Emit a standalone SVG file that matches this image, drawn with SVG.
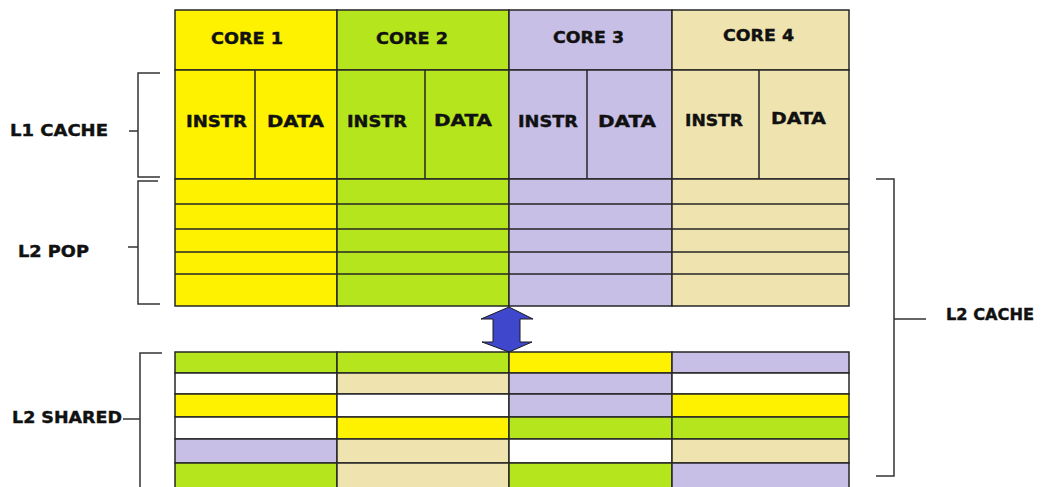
<svg xmlns="http://www.w3.org/2000/svg" width="1049" height="487" viewBox="0 0 1049 487">
<style>
.c{stroke:#262626;stroke-width:1.5}
.y{fill:#FFF200}.g{fill:#B5E61D}.l{fill:#C8BFE7}.t{fill:#EFE4B0}.w{fill:#FFFFFF}
.ln{stroke:#262626;stroke-width:1.5;fill:none}
.br{stroke:#333;stroke-width:1.5;fill:none}
text{font-family:"DejaVu Sans","Verdana",sans-serif;font-weight:bold;font-size:15.5px;fill:#111;stroke:#111;stroke-width:0.4}
</style>
<rect width="1049" height="487" fill="#fff"/>
<g id="core1">
<rect class="y c" x="175" y="10" width="162" height="60"/>
<rect class="y c" x="175" y="70" width="162" height="109"/>
<line class="ln" x1="255" y1="70" x2="255" y2="180"/>
<text x="211" y="44" textLength="72" lengthAdjust="spacingAndGlyphs">CORE 1</text>
<text x="186" y="127" textLength="61" lengthAdjust="spacingAndGlyphs">INSTR</text>
<text x="267" y="127" textLength="57" lengthAdjust="spacingAndGlyphs">DATA</text>
</g>
<g id="core2">
<rect class="g c" x="337" y="10" width="172" height="60"/>
<rect class="g c" x="337" y="70" width="172" height="109"/>
<line class="ln" x1="425" y1="70" x2="425" y2="179"/>
<text x="376" y="44" textLength="72" lengthAdjust="spacingAndGlyphs">CORE 2</text>
<text x="347" y="127" textLength="60" lengthAdjust="spacingAndGlyphs">INSTR</text>
<text x="434" y="126" textLength="58" lengthAdjust="spacingAndGlyphs">DATA</text>
</g>
<g id="core3">
<rect class="l c" x="509" y="10" width="163" height="60"/>
<rect class="l c" x="509" y="70" width="163" height="109"/>
<line class="ln" x1="587" y1="70" x2="587" y2="179"/>
<text x="553" y="43" textLength="71" lengthAdjust="spacingAndGlyphs">CORE 3</text>
<text x="518" y="127" textLength="60" lengthAdjust="spacingAndGlyphs">INSTR</text>
<text x="598" y="127" textLength="58" lengthAdjust="spacingAndGlyphs">DATA</text>
</g>
<g id="core4">
<rect class="t c" x="672" y="10" width="177" height="60"/>
<rect class="t c" x="672" y="70" width="177" height="109"/>
<line class="ln" x1="759" y1="70" x2="759" y2="179"/>
<text x="723" y="41" textLength="71" lengthAdjust="spacingAndGlyphs">CORE 4</text>
<text x="685" y="126" textLength="58" lengthAdjust="spacingAndGlyphs">INSTR</text>
<text x="771" y="124" textLength="55" lengthAdjust="spacingAndGlyphs">DATA</text>
</g>
<g id="l2pop">
<rect class="y c" x="175" y="179" width="162" height="127"/>
<rect class="g c" x="337" y="179" width="172" height="127"/>
<rect class="l c" x="509" y="179" width="163" height="127"/>
<rect class="t c" x="672" y="179" width="177" height="127"/>
<path class="ln" d="M175 204H849M175 229H849M175 252H849M175 274H849"/>
</g>
<g id="l2shared">
<rect class="g c" x="175" y="352" width="162" height="21"/>
<rect class="g c" x="337" y="352" width="172" height="21"/>
<rect class="y c" x="509" y="352" width="163" height="21"/>
<rect class="l c" x="672" y="352" width="177" height="21"/>
<rect class="w c" x="175" y="373" width="162" height="21"/>
<rect class="t c" x="337" y="373" width="172" height="21"/>
<rect class="l c" x="509" y="373" width="163" height="21"/>
<rect class="w c" x="672" y="373" width="177" height="21"/>
<rect class="y c" x="175" y="394" width="162" height="23"/>
<rect class="w c" x="337" y="394" width="172" height="23"/>
<rect class="l c" x="509" y="394" width="163" height="23"/>
<rect class="y c" x="672" y="394" width="177" height="23"/>
<rect class="w c" x="175" y="417" width="162" height="22"/>
<rect class="y c" x="337" y="417" width="172" height="22"/>
<rect class="g c" x="509" y="417" width="163" height="22"/>
<rect class="g c" x="672" y="417" width="177" height="22"/>
<rect class="l c" x="175" y="439" width="162" height="24"/>
<rect class="t c" x="337" y="439" width="172" height="24"/>
<rect class="w c" x="509" y="439" width="163" height="24"/>
<rect class="t c" x="672" y="439" width="177" height="24"/>
<rect class="g c" x="175" y="463" width="162" height="30"/>
<rect class="t c" x="337" y="463" width="172" height="30"/>
<rect class="g c" x="509" y="463" width="163" height="30"/>
<rect class="l c" x="672" y="463" width="177" height="30"/>
</g>
<g id="connectors">
<polygon points="509,307 481,319 493,319 493,342 482,342 509,352 532,342 520,342 520,319 533,319" fill="#3F48CC" stroke="#1a1a1a" stroke-width="1"/>
<path class="br" d="M160 73H138V177H160M129 131H138"/>
<path class="br" d="M158 181H138V304H160M128 247H138"/>
<path class="br" d="M162 353H140V490M123 419H140"/>
<path class="br" d="M876 179H894V476H876M894 319H926"/>
</g>
<g id="labels">
<text x="10" y="136" textLength="98" lengthAdjust="spacingAndGlyphs">L1 CACHE</text>
<text x="18" y="257" textLength="71" lengthAdjust="spacingAndGlyphs">L2 POP</text>
<text x="12" y="423" textLength="110" lengthAdjust="spacingAndGlyphs">L2 SHARED</text>
<text x="946" y="320" textLength="88" lengthAdjust="spacingAndGlyphs">L2 CACHE</text>
</g>
</svg>
